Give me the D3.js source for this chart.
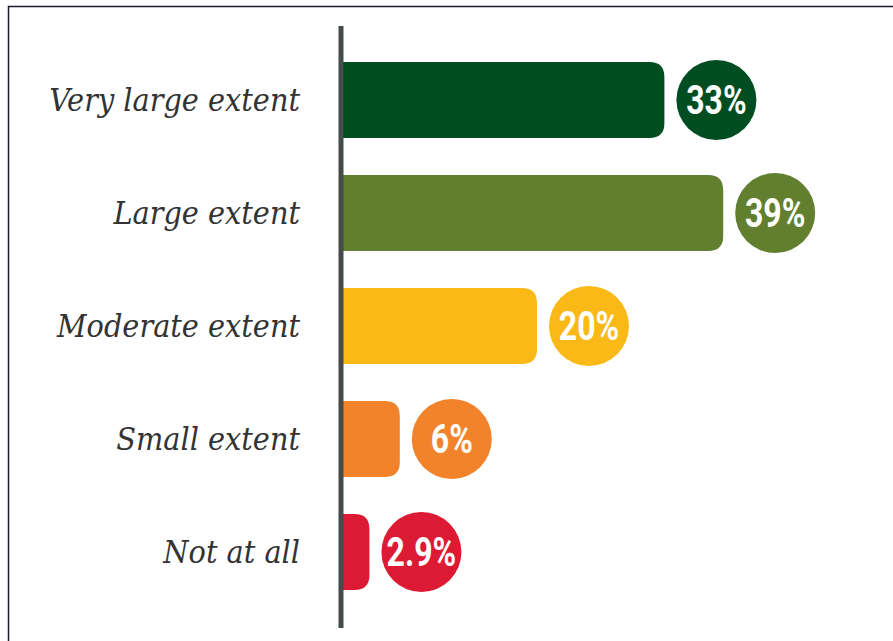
<!doctype html>
<html>
  <head>
    <script src="https://cdn.jsdelivr.net/npm/d3@7/dist/d3.min.js"></script>
    <style>
      body, html {
        margin: 0;
        background: #fff;
      }
      svg {
        display: block;
      }
      text.label {
        font-family: "DejaVu Serif", serif;
        font-style: italic;
        font-stretch: condensed;
        font-size: 32px;
        fill: #333;
      }
      text.value {
        font-family: "Roboto", sans-serif;
        font-weight: bold;
        font-size: 40px;
        fill: #fff;
      }
    </style>
  </head>
  <body>
    <svg width="893" height="641"></svg>
    <script>
      var categories = ["Very large extent", "Large extent", "Moderate extent", "Small extent", "Not at all"];
      var values = [33, 39, 20, 6, 2.9];
      var valueLabels = ["33%", "39%", "20%", "6%", "2.9%"];
      var colors = ["#004d21", "#627f30", "#fbb918", "#f2832b", "#dc1a33"];

      var svg = d3.select("svg");
      var axisX = 341;
      var barH = 76, r = 40, radius = 15, gap = 12;

      var x = d3.scaleLinear().domain([0, 40]).range([axisX, axisX + 392]);
      var y = d3.scalePoint().domain(categories).range([100, 552]);

      // frame (only top and left edges visible)
      svg.append("path")
        .attr("d", "M8.5,641 V6.5 H893")
        .attr("fill", "none")
        .attr("stroke", "#1a1a2e")
        .attr("stroke-width", 1.5);

      var data = categories.map((c, i) => ({cat: c, v: values[i], lab: valueLabels[i], col: colors[i]}));

      function barPath(d) {
        var x0 = x(0), x1 = x(d.v), y0 = y(d.cat) - barH / 2, y1 = y(d.cat) + barH / 2;
        var rr = Math.min(radius, (x1 - x0));
        return "M" + x0 + "," + y0 + " H" + (x1 - rr) +
          " Q" + x1 + "," + y0 + " " + x1 + "," + (y0 + rr) +
          " V" + (y1 - rr) +
          " Q" + x1 + "," + y1 + " " + (x1 - rr) + "," + y1 +
          " H" + x0 + " Z";
      }

      svg.selectAll("path.bar")
        .data(data)
        .enter()
        .append("path")
          .attr("class", "bar")
          .attr("d", barPath)
          .attr("fill", d => d.col);

      svg.selectAll("circle.badge")
        .data(data)
        .enter()
        .append("circle")
          .attr("class", "badge")
          .attr("cx", d => x(d.v) + gap + r)
          .attr("cy", d => y(d.cat))
          .attr("r", r)
          .attr("fill", d => d.col);

      // condensed look: squeeze the bold sans horizontally
      svg.selectAll("text.value")
        .data(data)
        .enter()
        .append("text")
          .attr("class", "value")
          .attr("transform", d => "translate(" + (x(d.v) + gap + r) + "," + (y(d.cat) + 14) + ") scale(0.8,1)")
          .attr("text-anchor", "middle")
          .text(d => d.lab);

      svg.selectAll("text.label")
        .data(data)
        .enter()
        .append("text")
          .attr("class", "label")
          .attr("x", 300)
          .attr("y", d => y(d.cat) + 11)
          .attr("text-anchor", "end")
          .text(d => d.cat);

      // axis line
      svg.append("line")
        .attr("x1", axisX).attr("x2", axisX)
        .attr("y1", 26).attr("y2", 628)
        .attr("stroke", "#454a4a")
        .attr("stroke-width", 5);
    </script>
  </body>
</html>
